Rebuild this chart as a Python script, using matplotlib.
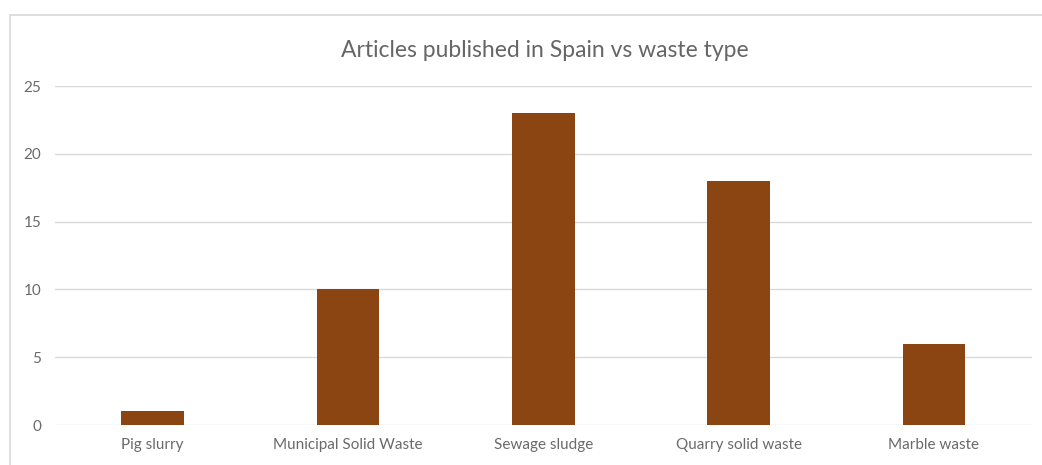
import matplotlib.pyplot as plt
from matplotlib.patches import Rectangle

categories = ['Pig slurry', 'Municipal Solid Waste', 'Sewage sludge',
              'Quarry solid waste', 'Marble waste']
articles = [1, 10, 23, 18, 6]
yticks = [0, 5, 10, 15, 20, 25]

plt.rcParams['font.family'] = ['Lato', 'DejaVu Sans']

fig = plt.figure(figsize=(10.42, 4.65), dpi=100)
ax = fig.add_axes([0.0528, 0.086, 0.9372, 0.729])

# chart frame (cut off at the right and bottom, like the screenshot)
fig.patches.append(Rectangle((10 / 1042, -0.05), 1.2, 1 - 15 / 465 + 0.05,
                             transform=fig.transFigure, fill=False,
                             edgecolor='#d9d9d9', linewidth=1.2))

x = range(len(categories))
ax.bar(x, articles, width=0.32, color='#8b4513', zorder=3)

ax.set_xlim(-0.5, len(categories) - 0.5)
ax.set_ylim(0, 25)
ax.set_yticks(yticks)
ax.set_xticks(list(x))
ax.set_xticklabels(categories)

ax.grid(axis='y', color='#d9d9d9', linewidth=1)
for s in ax.spines.values():
    s.set_visible(False)
ax.tick_params(length=0, colors='#6a6a6a', labelsize=11)
ax.tick_params(axis='y', pad=10)
ax.tick_params(axis='x', pad=9)

fig.text(0.523, 0.892, 'Articles published in Spain vs waste type',
         ha='center', va='center', fontsize=16.5, color='#666666')

fig.savefig('out.png', dpi=100)
